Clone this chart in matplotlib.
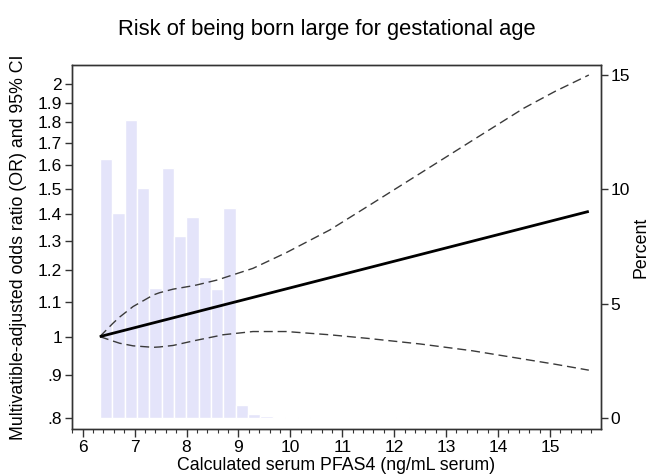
import numpy as np
import matplotlib
matplotlib.use("Agg")
import matplotlib.pyplot as plt
from matplotlib.ticker import FixedLocator, FixedFormatter, MultipleLocator

plt.rcParams['font.family'] = ['Liberation Sans', 'DejaVu Sans']

# histogram of exposure (percent per bin)
bin_start = 6.33
bin_width = 0.238
bin_pct = [11.31, 8.95, 13.03, 10.06, 5.67, 10.92, 7.96, 8.78, 6.15, 5.64, 9.20,
           0.58, 0.16, 0.10, 0.04, 0.0, 0.05, 0.0, 0.0, 0.0, 0.0, 0.0, 0.0, 0.0,
           0.05]

# odds ratio curve and 95% CI
or_x = [6.33, 15.75]
or_y = [1.0, 1.41]

ci_x = [6.33, 6.58, 6.71, 6.97, 7.36, 7.48, 7.74, 8.06, 8.19, 8.64, 8.70, 9.28,
        9.92, 10.76, 11.5, 12.5, 13.5, 14.5, 15.1, 15.75]
ci_hi = [1.0, 1.037, 1.055, 1.086, 1.121, 1.128, 1.139, 1.148, 1.152, 1.170,
         1.174, 1.206, 1.259, 1.34, 1.431, 1.565, 1.712, 1.872, 1.960, 2.05]
ci_lo = [1.0, 0.988, 0.982, 0.975, 0.971, 0.972, 0.976, 0.986, 0.990, 1.003,
         1.005, 1.014, 1.014, 1.005, 0.995, 0.980, 0.962, 0.940, 0.927, 0.912]

or_ticks = [0.8, 0.9, 1.0, 1.1, 1.2, 1.3, 1.4, 1.5, 1.6, 1.7, 1.8, 1.9, 2.0]
or_labels = ['.8', '.9', '1', '1.1', '1.2', '1.3', '1.4', '1.5', '1.6', '1.7',
             '1.8', '1.9', '2']
pct_ticks = [0, 5, 10, 15]
x_ticks = list(range(6, 16))

fig = plt.figure(figsize=(6.53, 4.76), dpi=100)
ax = fig.add_axes([0.110, 0.0987, 0.810, 0.7647])
ax2 = ax.twinx()

spine_col = '#333333'

# bars on the right axis
lefts = [bin_start + i * bin_width for i in range(len(bin_pct))]
ax2.bar(lefts, bin_pct, width=bin_width, align='edge', color='#e4e4fa',
        edgecolor='white', linewidth=1.0)
ax2.set_ylim(-0.48, 15.44)
ax2.yaxis.set_major_locator(FixedLocator(pct_ticks))
ax2.set_ylabel('Percent', fontsize=12.8, labelpad=2)

# lines on the left axis (drawn above the bars)
ax.set_zorder(ax2.get_zorder() + 1)
ax.patch.set_visible(False)
ax.plot(ci_x, ci_hi, color='#3a3a3a', lw=1.0, dashes=(6.5, 3.5))
ax.plot(ci_x, ci_lo, color='#3a3a3a', lw=1.0, dashes=(6.5, 3.5))
ax.plot(or_x, or_y, color='black', lw=2.0, solid_capstyle='butt')

ax.set_yscale('log')
ax.set_ylim(0.776, 2.107)
ax.yaxis.set_major_locator(FixedLocator(or_ticks))
ax.yaxis.set_major_formatter(FixedFormatter(or_labels))
ax.yaxis.set_minor_locator(FixedLocator([]))
ax.set_xlim(5.79, 15.98)
ax.xaxis.set_major_locator(FixedLocator(x_ticks))
ax.xaxis.set_minor_locator(MultipleLocator(0.2))

ax.set_ylabel('Multivatible-adjusted odds ratio (OR) and 95% CI', fontsize=12.8,
              labelpad=8)
ax.set_xlabel('Calculated serum PFAS4 (ng/mL serum)', fontsize=12.8, labelpad=1.5)

for a in (ax, ax2):
    for s in a.spines.values():
        s.set_color(spine_col)
        s.set_linewidth(1.0)
    a.tick_params(axis='both', which='major', length=5, width=1.0,
                  color=spine_col, labelsize=12.5, pad=2)
ax.tick_params(axis='x', which='minor', length=3, width=0.8, color=spine_col)
ax.tick_params(axis='x', which='major', length=6, pad=2)

fig.suptitle('Risk of being born large for gestational age', fontsize=15.8,
             x=0.5, y=0.96)

fig.savefig('out.png', dpi=100)
